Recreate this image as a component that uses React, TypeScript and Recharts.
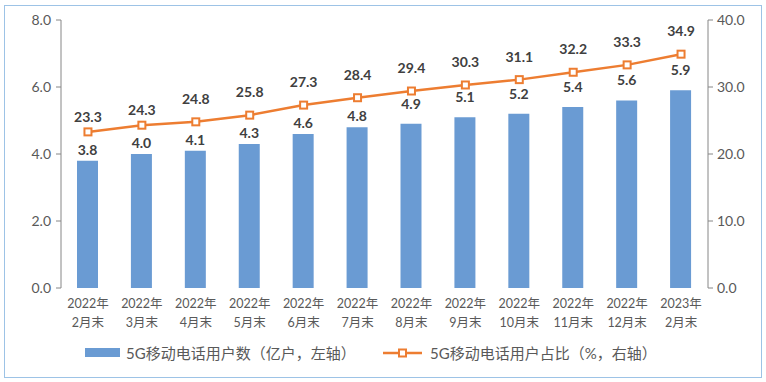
import React from 'react';
import { ComposedChart, Bar, Line, XAxis, YAxis, Legend, LabelList } from 'recharts';

const categories = [
  '2022年\n2月末', '2022年\n3月末', '2022年\n4月末', '2022年\n5月末', '2022年\n6月末', '2022年\n7月末',
  '2022年\n8月末', '2022年\n9月末', '2022年\n10月末', '2022年\n11月末', '2022年\n12月末', '2023年\n2月末',
];
const users = [3.8, 4.0, 4.1, 4.3, 4.6, 4.8, 4.9, 5.1, 5.2, 5.4, 5.6, 5.9];
const shares = [23.3, 24.3, 24.8, 25.8, 27.3, 28.4, 29.4, 30.3, 31.1, 32.2, 33.3, 34.9];
const leftTicks = [0, 2, 4, 6, 8];
const rightTicks = [0, 10, 20, 30, 40];
const boundaryTicks = [0, 1, 2, 3, 4, 5, 6, 7, 8, 9, 10, 11, 12];
const seriesNames = ['5G移动电话用户数（亿户，左轴）', '5G移动电话用户占比（%，右轴）'];

const data = categories.map((c, i) => ({ cat: c, users: users[i], share: shares[i] }));

const FONT = "Lato, 'Noto Sans CJK SC', sans-serif";
const BAR = '#6A9BD3';
const LINE = '#ED7D31';
const AXIS = '#868686';
const TXT = '#595959';
const LBL = '#404040';

const XTick = (props: any) => {
  const { x, y, payload } = props;
  const [a, b] = String(payload.value).split('\n');
  return (
    <text x={x} y={y} textAnchor="middle" fill={TXT} fontSize={12.5} fontFamily={FONT}>
      <tspan x={x} dy={20}>{a}</tspan>
      <tspan x={x} dy={19}>{b}</tspan>
    </text>
  );
};

const BarLabel = (props: any) => {
  const { x, y, width, value, index } = props;
  const off = index < 6 ? 6 : 15;
  return (
    <text x={x + width / 2} y={y - off} textAnchor="middle" fill={LBL} fontSize={14} fontWeight={700} fontFamily={FONT}>
      {Number(value).toFixed(1)}
    </text>
  );
};

const LineLabel = (props: any) => {
  const { x, y, value, index } = props;
  const off = index < 2 ? 10 : 18;
  return (
    <text x={x} y={y - off} textAnchor="middle" fill={LBL} fontSize={14} fontWeight={700} fontFamily={FONT}>
      {Number(value).toFixed(1)}
    </text>
  );
};

const SquareDot = (props: any) => {
  const { cx, cy, index } = props;
  return <rect key={`d${index}`} x={cx - 3.5} y={cy - 3.5} width={7} height={7} fill="#fff" stroke={LINE} strokeWidth={2} />;
};

const LegendContent = () => (
  <div style={{ position: 'relative', width: 766, height: 24, fontFamily: FONT, fontSize: 15, color: TXT }}>
    <svg style={{ position: 'absolute', left: 85, top: 7 }} width={36} height={10}>
      <rect x={0} y={0} width={35} height={9} fill={BAR} />
    </svg>
    <span style={{ position: 'absolute', left: 126, top: 2, whiteSpace: 'nowrap', lineHeight: '20px' }}>{seriesNames[0]}</span>
    <svg style={{ position: 'absolute', left: 383, top: 4 }} width={40} height={16}>
      <line x1={0} y1={8} x2={39} y2={8} stroke={LINE} strokeWidth={2.5} />
      <rect x={16} y={4.5} width={7} height={7} fill="#fff" stroke={LINE} strokeWidth={2} />
    </svg>
    <span style={{ position: 'absolute', left: 430, top: 2, whiteSpace: 'nowrap', lineHeight: '20px' }}>{seriesNames[1]}</span>
  </div>
);

export default function App() {
  return (
    <div style={{ position: 'absolute', left: 0, top: 0, width: 766, height: 382, background: '#fff' }}>
      <div
        style={{
          position: 'absolute', left: 4, top: 5, width: 758, height: 373,
          border: '1.5px solid #9DC3E6', boxSizing: 'border-box',
        }}
      />
      <ComposedChart
        width={766}
        height={382}
        data={data}
        margin={{ top: 20, right: 0, left: 0, bottom: 25 }}
        barCategoryGap={0}
      >
        <XAxis
          xAxisId="grid"
          type="number"
          domain={[0, 12]}
          ticks={boundaryTicks}
          tick={false}
          height={0}
          axisLine={{ stroke: AXIS }}
          tickLine={{ stroke: AXIS }}
          tickSize={5}
          allowDataOverflow
        />
        <XAxis
          xAxisId="cat"
          dataKey="cat"
          height={45}
          interval={0}
          axisLine={false}
          tickLine={false}
          tickSize={0}
          tickMargin={0}
          tick={<XTick />}
        />
        <YAxis
          yAxisId="left"
          orientation="left"
          width={61}
          domain={[0, 8]}
          ticks={leftTicks}
          tickFormatter={(v: number) => v.toFixed(1)}
          axisLine={{ stroke: AXIS }}
          tickLine={{ stroke: AXIS }}
          tickSize={5}
          tickMargin={5}
          tick={{ fill: TXT, fontSize: 14, fontFamily: FONT }}
        />
        <YAxis
          yAxisId="right"
          orientation="right"
          width={58}
          domain={[0, 40]}
          ticks={rightTicks}
          tickFormatter={(v: number) => v.toFixed(1)}
          axisLine={{ stroke: AXIS }}
          tickLine={{ stroke: AXIS }}
          tickSize={5}
          tickMargin={4}
          tick={{ fill: TXT, fontSize: 14, fontFamily: FONT, textAnchor: 'start' }}
        />
        <Legend content={<LegendContent />} wrapperStyle={{ left: 0, top: 341, width: 766, height: 24 }} />
        <Bar
          xAxisId="cat"
          yAxisId="left"
          dataKey="users"
          name={seriesNames[0]}
          fill={BAR}
          barSize={21}
          isAnimationActive={false}
        >
          <LabelList dataKey="users" content={<BarLabel />} />
        </Bar>
        <Line
          xAxisId="cat"
          yAxisId="right"
          dataKey="share"
          name={seriesNames[1]}
          stroke={LINE}
          strokeWidth={2.5}
          dot={SquareDot}
          activeDot={false}
          isAnimationActive={false}
        >
          <LabelList dataKey="share" content={<LineLabel />} />
        </Line>
      </ComposedChart>
    </div>
  );
}
